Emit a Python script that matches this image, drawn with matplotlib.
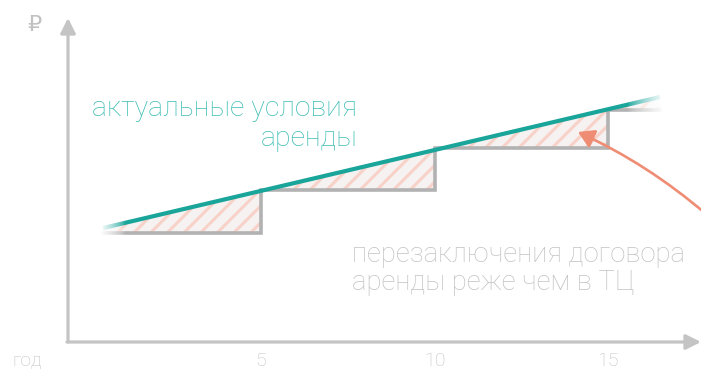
import numpy as np
import matplotlib
matplotlib.use("Agg")
import matplotlib.pyplot as plt
from matplotlib.patches import FancyArrowPatch

plt.rcParams['font.family'] = ['Roboto', 'DejaVu Sans']
plt.rcParams['hatch.linewidth'] = 2.2
plt.rcParams['hatch.color'] = '#f8d2c8'

# ---- data ----
step_years = [0.45, 5, 10, 15, 16.5]
step_levels = [10.9, 15.2, 19.4, 23.2]
line_years = [0.45, 16.5]
line_values = [11.4, 24.5]
tick_years = [5, 10, 15]
tick_labels = ['5', '10', '15']
x_label = 'год'
y_label = '₽'
teal_text = ['актуальные условия', 'аренды']
gray_text = ['перезаключения договора', 'аренды реже чем в ТЦ']

TEAL = '#1aa59b'
TEAL_TXT = '#3fbdb4'
GRAY = '#b2b2b2'
AXIS = '#c4c4c4'
LIGHT = '#c2c2c2'
ORANGE = '#ef8c74'

fig = plt.figure(figsize=(7.01, 3.70), dpi=100)
ax = fig.add_axes([0, 0, 1, 1])
# pixel mapping: x_px = 87.5 + 34.7*year ; y_px = 342 - 10*value
XL = (-87.5 / 34.7, (701 - 87.5) / 34.7)
YL = ((342 - 370) / 10, 342 / 10)
ax.axis('off')

x0 = (68 - 87.5) / 34.7

# axes arrows
ax.annotate('', xy=(x0, 32.4), xytext=(x0, 0),
            arrowprops=dict(arrowstyle='-|>,head_length=0.9,head_width=0.45',
                            color=AXIS, lw=2.3, shrinkA=0, shrinkB=0), zorder=2)
ax.annotate('', xy=((701 - 87.5) / 34.7, 0), xytext=(x0 - 0.03, 0),
            arrowprops=dict(arrowstyle='-|>,head_length=0.9,head_width=0.45',
                            color=AXIS, lw=2.3, shrinkA=0, shrinkB=0), zorder=2)

# tick labels
for t, l in zip(tick_years, tick_labels):
    ax.text(t, -1.9, l, ha='center', va='center', fontsize=14, color=LIGHT,
            fontweight='light')
ax.text((27 - 87.5) / 34.7, -1.9, x_label, ha='center', va='center', fontsize=14,
        color=LIGHT, fontweight='light')
ax.text((34 - 87.5) / 34.7, 31.7, y_label, ha='center', va='center', fontsize=16,
        color=LIGHT, family=['DejaVu Sans'])

# step function
sx = []
sy = []
for i, lev in enumerate(step_levels):
    sx += [step_years[i], step_years[i + 1]]
    sy += [lev, lev]
ax.plot(sx, sy, color=GRAY, lw=2.6, solid_joinstyle='miter', zorder=3)

# hatched region between actual line and step function
fx = np.array(sx)
fline = np.interp(fx, line_years, line_values)
ax.fill_between(fx, np.array(sy), fline, facecolor='#f5f2f1', edgecolor='#f8d2c8',
                hatch='//', lw=0, zorder=1)

# actual line
ax.plot(line_years, line_values, color=TEAL, lw=3.0, solid_capstyle='butt', zorder=4)

# fades at the ends (white gradient overlays)
grad = np.zeros((1, 256, 4))
grad[..., :3] = 1.0
grad[0, :, 3] = np.linspace(1, 0, 256) ** 0.7
ax.imshow(grad, extent=(0.35, (124 - 87.5) / 34.7, 9.5, 13.5), aspect='auto',
          zorder=6, interpolation='bilinear')
grad2 = grad[:, ::-1, :]
ax.imshow(grad2, extent=((628 - 87.5) / 34.7, (665 - 87.5) / 34.7, 21.5, 26.5),
          aspect='auto', zorder=6, interpolation='bilinear')
ax.set_xlim(*XL)
ax.set_ylim(*YL)

# texts
FS = 20.5
FS2 = 19.8
ax.text((357 - 87.5) / 34.7, (342 - 109) / 10, teal_text[0], ha='right', va='center',
        fontsize=FS, color=TEAL_TXT, fontweight='light', zorder=7)
ax.text((357 - 87.5) / 34.7, (342 - 139) / 10, teal_text[1], ha='right', va='center',
        fontsize=FS, color=TEAL_TXT, fontweight='light', zorder=7)
ax.text((352 - 87.5) / 34.7, (342 - 254) / 10, gray_text[0], ha='left', va='center',
        fontsize=FS2, color=LIGHT, fontweight='light', zorder=7)
ax.text((352 - 87.5) / 34.7, (342 - 283) / 10, gray_text[1], ha='left', va='center',
        fontsize=FS2, color=LIGHT, fontweight='light', zorder=7)

# orange curved arrow
arr = FancyArrowPatch(((706 - 87.5) / 34.7, (342 - 214) / 10),
                      ((578 - 87.5) / 34.7, (342 - 132) / 10),
                      connectionstyle='arc3,rad=0.07',
                      arrowstyle='-|>,head_length=6,head_width=3.6',
                      color=ORANGE, lw=1.9, shrinkA=0, shrinkB=0, zorder=8,
                      mutation_scale=1.6)
ax.add_patch(arr)

fig.savefig('out.png', dpi=100)
